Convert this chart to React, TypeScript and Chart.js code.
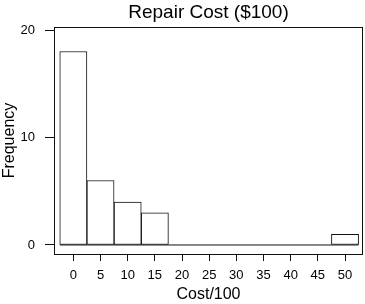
import React, { useEffect, useRef } from "react";
import { Chart, registerables } from "chart.js";

Chart.register(...registerables);

const binCenters = [0, 5, 10, 15, 20, 25, 30, 35, 40, 45, 50];
const frequencies = [18, 6, 4, 3, 0, 0, 0, 0, 0, 0, 1];
const binWidth = 5;
const xTicks = [0, 5, 10, 15, 20, 25, 30, 35, 40, 45, 50];
const yTicks = [0, 10, 20];

const FONT = "'Liberation Sans', Arial, Helvetica, sans-serif";
const INK = "#111";

const boxPlugin = {
  id: "box",
  afterDraw(chart: any) {
    const { ctx, chartArea } = chart;
    ctx.save();
    ctx.strokeStyle = INK;
    ctx.lineWidth = 1;
    ctx.strokeRect(
      Math.round(chartArea.left) + 0.5,
      Math.round(chartArea.top) + 0.5,
      Math.round(chartArea.right - chartArea.left) - 1,
      Math.round(chartArea.bottom - chartArea.top)
    );
    ctx.restore();
  },
};

export default function App() {
  const ref = useRef<HTMLCanvasElement>(null);
  useEffect(() => {
    document.body.style.margin = "0";
    const barData = binCenters.map((x, i) => ({ x, y: frequencies[i] }));
    const baseLine = [
      { x: binCenters[0] - binWidth / 2, y: 0 },
      { x: binCenters[binCenters.length - 1] + binWidth / 2, y: 0 },
    ];
    const chart = new Chart(ref.current!, {
      type: "bar",
      data: {
        datasets: [
          {
            type: "line",
            data: baseLine,
            borderColor: INK,
            borderWidth: 1,
            pointRadius: 0,
            order: 2,
          } as any,
          {
            type: "bar",
            data: barData,
            backgroundColor: "#ffffff",
            borderColor: INK,
            borderWidth: 1,
            borderSkipped: false,
            barPercentage: 1,
            categoryPercentage: 1,
            order: 1,
          } as any,
        ],
      },
      options: {
        animation: false,
        responsive: true,
        maintainAspectRatio: false,
        layout: { padding: { left: 0, right: 2, top: 0, bottom: 0 } },
        plugins: {
          legend: { display: false },
          tooltip: { enabled: false },
          title: {
            display: true,
            text: "Repair Cost ($100)",
            fullSize: false,
            color: "#000",
            font: { family: FONT, size: 19, weight: "normal" as any, lineHeight: 1.2 },
            padding: { top: 1, bottom: 3.2 },
          },
        },
        scales: {
          x: {
            type: "linear",
            offset: false,
            min: -3.56,
            max: 53.31,
            afterFit(scale: any) {
              scale.height = 50;
            },
            afterBuildTicks(scale: any) {
              scale.ticks = xTicks.map((v) => ({ value: v }));
            },
            grid: {
              drawOnChartArea: false,
              drawTicks: true,
              tickLength: 7,
              color: INK,
              offset: false,
            },
            border: { display: false },
            ticks: {
              color: "#000",
              padding: 7,
              maxRotation: 0,
              autoSkip: false,
              font: { family: FONT, size: 13 },
            },
            title: {
              display: true,
              text: "Cost/100",
              color: "#000",
              font: { family: FONT, size: 16, lineHeight: 1.2 },
              padding: { top: 0, bottom: 0 },
            },
          },
          y: {
            type: "linear",
            min: -0.84,
            max: 20.28,
            afterFit(scale: any) {
              scale.width = 54;
            },
            afterBuildTicks(scale: any) {
              scale.ticks = yTicks.map((v) => ({ value: v }));
            },
            grid: {
              drawOnChartArea: false,
              drawTicks: true,
              tickLength: 9,
              color: INK,
            },
            border: { display: false },
            ticks: {
              color: "#000",
              padding: 10,
              font: { family: FONT, size: 13 },
            },
            title: {
              display: true,
              text: "Frequency",
              color: "#000",
              font: { family: FONT, size: 16, lineHeight: 1.2 },
              padding: { top: 0, bottom: 0 },
            },
          },
        },
      },
      plugins: [boxPlugin],
    });
    return () => chart.destroy();
  }, []);
  return (
    <div style={{ position: "relative", width: 365, height: 304 }}>
      <canvas ref={ref} />
    </div>
  );
}
